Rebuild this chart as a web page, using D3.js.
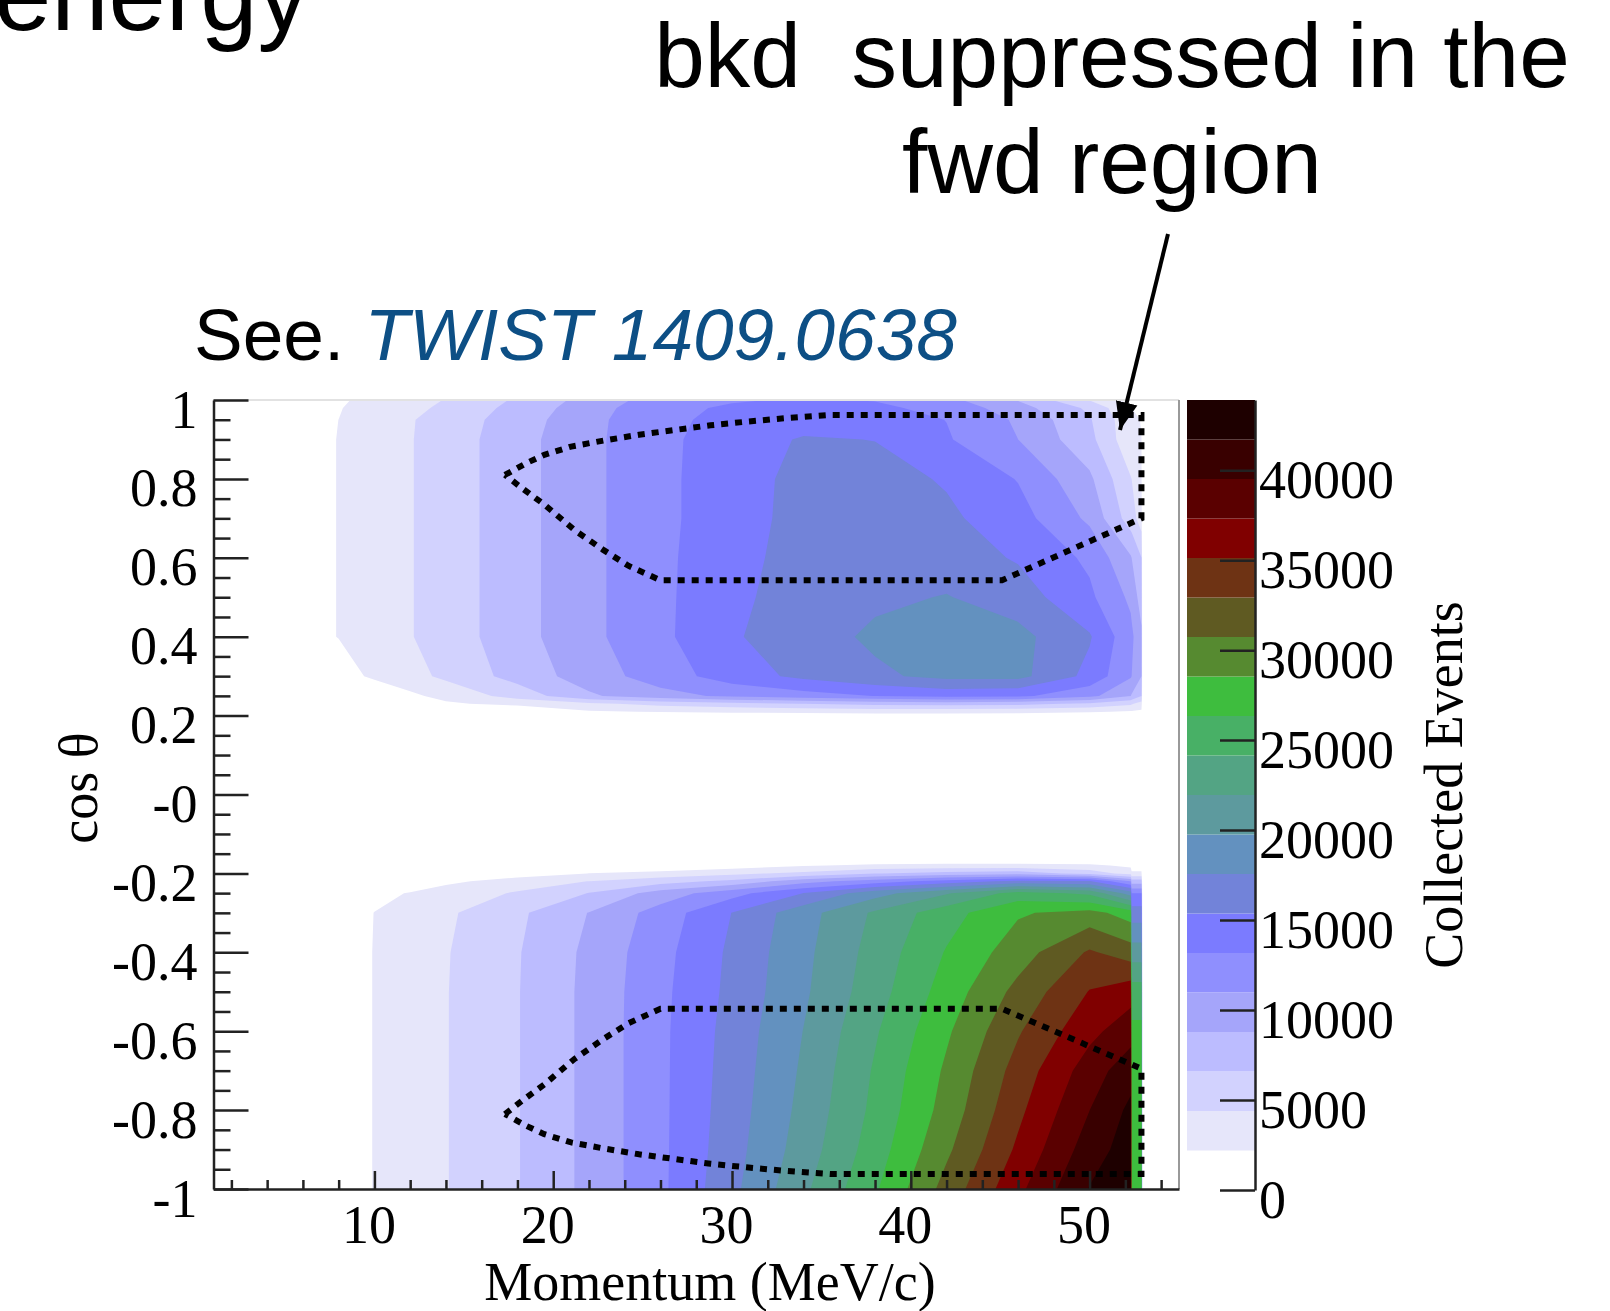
<!DOCTYPE html>
<html>
<head>
<meta charset="utf-8">
<script src="https://cdn.jsdelivr.net/npm/d3@7"></script>
<style>
  body { margin: 0; background: #fff; }
  svg { display: block; background: #fff; }
</style>
</head>
<body>
<svg id="chart" width="1610" height="1311"></svg>
<script>
"use strict";

// columns of the count table (momentum, MeV/c)
const momentum = [1, 8, 10, 12, 14, 18, 22, 26, 30, 34, 38, 42, 46, 50, 52.3, 52.35, 52.9, 52.95, 55];
// rows of the count table (cos theta)
const cosTheta = [-1, -0.9, -0.8, -0.7, -0.6, -0.5, -0.4, -0.3, -0.25, -0.22, -0.2, -0.18, -0.16,
                  0.19, 0.21, 0.23, 0.25, 0.3, 0.4, 0.5, 0.6, 0.7, 0.8, 0.9, 0.95, 0.98, 1];
// collected events, one row per cosTheta value
const counts = [
  [0, 0, 2340, 3310, 4300, 6480, 9370, 12690, 17000, 21500, 26050, 31550, 36770, 41820, 43500, 27440, 27440, 0, 0], // -1
  [0, 0, 2340, 3310, 4300, 6480, 9370, 12690, 16700, 20800, 25240, 30300, 35530, 40610, 42800, 27200, 27200, 0, 0], // -0.9
  [0, 0, 2340, 3310, 4300, 6480, 9370, 12690, 16500, 20400, 24700, 29400, 34600, 39500, 42200, 27200, 27200, 0, 0], // -0.8
  [0, 0, 2340, 3310, 4300, 6480, 9370, 12690, 16350, 20100, 24400, 28900, 33800, 38400, 40830, 27000, 27000, 0, 0], // -0.7
  [0, 0, 2340, 3310, 4300, 6480, 9370, 12690, 16200, 19800, 23900, 28200, 32700, 36700, 38600, 26780, 26780, 0, 0], // -0.6
  [0, 0, 2340, 3310, 4300, 6480, 9370, 12620, 15950, 19400, 23200, 27300, 31400, 35230, 36440, 25240, 25240, 0, 0], // -0.5
  [0, 0, 2340, 3290, 4250, 6430, 9280, 12440, 15800, 19200, 22800, 26500, 29700, 33200, 31800, 20850, 20850, 0, 0], // -0.4
  [0, 0, 2250, 3110, 4020, 6150, 8850, 11920, 15400, 18880, 22300, 25460, 28300, 29300, 27500, 16460, 16460, 0, 0], // -0.3
  [0, 0, 1320, 2380, 3110, 4630, 6650, 9770, 12350, 15400, 18880, 21730, 25020, 23700, 18660, 13170, 13170, 0, 0], // -0.25
  [0, 0, 0, 0, 1760, 3030, 4430, 5600, 7180, 10100, 12120, 14030, 16020, 15580, 10980, 7680, 7680, 0, 0],          // -0.22
  [0, 0, 0, 0, 0, 1320, 2220, 3030, 3860, 4960, 6480, 7460, 7900, 5710, 3510, 2630, 2630, 0, 0],                   // -0.2
  [0, 0, 0, 0, 0, 0, 0, 0, 1100, 1980, 2630, 2850, 2850, 2630, 1760, 1100, 1100, 0, 0],                            // -0.18
  [0, 0, 0, 0, 0, 0, 0, 0, 0, 0, 0, 0, 0, 0, 0, 0, 0, 0, 0],                                                       // -0.16
  [0, 0, 0, 0, 0, 0, 0, 0, 0, 0, 0, 0, 0, 0, 0, 0, 0, 0, 0],                                                       // 0.19
  [0, 0, 0, 0, 0, 0, 1980, 2300, 2520, 2630, 2850, 2850, 2740, 2410, 1980, 1980, 1760, 0, 0],                      // 0.21
  [0, 0, 0, 0, 1870, 2850, 3950, 5050, 5930, 6620, 7240, 7460, 7240, 6150, 4830, 4610, 3510, 0, 0],                // 0.23
  [0, 0, 660, 1760, 2850, 5270, 8450, 10210, 11410, 12290, 13210, 13830, 13610, 11630, 8780, 8560, 6620, 0, 0],    // 0.25
  [0, 1320, 2550, 3660, 4850, 7440, 9860, 12050, 14250, 15910, 17120, 18220, 18220, 14710, 11190, 10980, 8780, 0, 0], // 0.3
  [0, 2240, 3270, 4280, 5360, 7970, 10430, 12670, 15150, 16460, 18000, 18660, 18220, 15580, 11630, 11410, 9220, 0, 0], // 0.4
  [0, 2240, 3270, 4280, 5360, 7970, 10430, 12670, 14930, 16240, 17120, 17670, 16460, 13610, 10540, 10320, 7680, 0, 0], // 0.5
  [0, 2240, 3270, 4280, 5360, 7970, 10430, 12670, 14710, 16130, 16680, 16460, 15150, 12730, 9000, 8780, 6620, 0, 0],   // 0.6
  [0, 2240, 3270, 4280, 5360, 7970, 10430, 12670, 14380, 16130, 16460, 15800, 14050, 10540, 5490, 5380, 3290, 0, 0],   // 0.7
  [0, 2240, 3270, 4280, 5360, 7970, 10430, 12670, 14380, 16020, 16240, 15140, 13060, 9220, 4500, 4390, 2630, 0, 0],    // 0.8
  [0, 2240, 3270, 4280, 5360, 7970, 10430, 12670, 14230, 15580, 15320, 13390, 10980, 7240, 2850, 2740, 2250, 0, 0],    // 0.9
  [0, 2200, 3140, 4230, 5290, 7680, 10340, 12620, 13830, 14380, 14270, 13130, 10650, 6800, 2850, 2740, 2090, 0, 0],    // 0.95
  [0, 2100, 2900, 3800, 4850, 7300, 10010, 12510, 13500, 13830, 13610, 12510, 9660, 6150, 2300, 2200, 1540, 0, 0],     // 0.98
  [0, 2000, 2600, 3400, 4500, 6900, 9600, 12000, 12950, 13390, 13060, 11630, 8670, 4280, 1540, 1540, 1100, 0, 0]       // 1
];

// fiducial cut outlines, [momentum, cos theta]
const fwdCut = [[17.3, 0.81], [18.5, 0.84], [19.5, 0.861], [21, 0.882], [22.8, 0.897], [24.8, 0.912], [26.8, 0.924],
  [28.8, 0.936], [30.8, 0.945], [33, 0.954], [35.5, 0.962], [52.9, 0.962], [52.9, 0.70], [45.1, 0.543], [26.0, 0.543],
  [24.2, 0.58], [22.8, 0.62], [21.2, 0.67], [19.5, 0.735], [18.3, 0.775], [17.3, 0.81]];
const bkdCut = [[17.3, -0.81], [18.3, -0.775], [19.5, -0.735], [21.2, -0.67], [22.8, -0.62], [24.2, -0.58], [26.0, -0.543],
  [45.1, -0.543], [52.9, -0.695], [52.9, -0.962], [35.5, -0.962], [33, -0.954], [30.8, -0.945], [28.8, -0.936],
  [26.8, -0.924], [24.8, -0.912], [22.8, -0.897], [21, -0.882], [19.5, -0.861], [18.5, -0.84], [17.3, -0.81]];

// palette: one colour per contour level, lowest first
const levelColors = ["#ffffff", "#e6e6fa", "#d2d2fe", "#bcbcff", "#a5a5fa", "#8f8ffe", "#7b7bff", "#7283d9",
  "#6391bf", "#5d9a9e", "#53a484", "#48b066", "#3ebd3e", "#568a30", "#5f5a22", "#6e3314",
  "#800000", "#5a0000", "#390000", "#1e0000"];
const zMax = 43900;

const xTicks = [10, 20, 30, 40, 50];
const xMinorTicks = [2, 4, 6, 8, 12, 14, 16, 18, 22, 24, 26, 28, 32, 34, 36, 38, 42, 44, 46, 48, 52, 54];
const yTicks = [-1, -0.8, -0.6, -0.4, -0.2, 0, 0.2, 0.4, 0.6, 0.8, 1];
const yTickLabels = ["-1", "-0.8", "-0.6", "-0.4", "-0.2", "-0", "0.2", "0.4", "0.6", "0.8", "1"];
const zTicks = [0, 5000, 10000, 15000, 20000, 25000, 30000, 35000, 40000];

const serif = '"Liberation Serif", "Times New Roman", serif';
const sans = '"Liberation Sans", Arial, Helvetica, sans-serif';
const plot = {x0: 213.5, x1: 1179, y0: 400, y1: 1189};
const bar = {x0: 1187, x1: 1255};

const svg = d3.select("#chart");

const x = d3.scaleLinear().domain([1, 55]).range([plot.x0, plot.x1]);
const y = d3.scaleLinear().domain([-1, 1]).range([plot.y1, plot.y0]);
const z = d3.scaleLinear().domain([0, zMax]).range([1190, plot.y0]);

// grid index -> data value (uneven grid)
const nx = momentum.length, ny = cosTheta.length;
const colScale = d3.scaleLinear().domain(d3.range(nx)).range(momentum).clamp(true);
const rowScale = d3.scaleLinear().domain(d3.range(ny)).range(cosTheta).clamp(true);

const step = zMax / levelColors.length;
const thresholds = d3.range(1, levelColors.length).map(k => k * step);
const contours = d3.contours().size([nx, ny]).thresholds(thresholds)(counts.flat());

const toPlot = d3.geoTransform({
  point: function (gx, gy) {
    this.stream.point(x(colScale(gx - 0.5)), y(rowScale(gy - 0.5)));
  }
});
const contourPath = d3.geoPath(toPlot);

svg.append("g")
  .selectAll("path")
  .data(contours)
  .join("path")
  .attr("d", contourPath)
  .attr("fill", d => levelColors[Math.round(d.value / step)]);

// frame (top / right)
svg.append("line").attr("x1", plot.x0).attr("x2", plot.x1).attr("y1", plot.y0).attr("y2", plot.y0)
  .attr("stroke", "#e2e2e2").attr("stroke-width", 2);
svg.append("line").attr("x1", plot.x1).attr("x2", plot.x1).attr("y1", plot.y0).attr("y2", plot.y1)
  .attr("stroke", "#999").attr("stroke-width", 2);

// fiducial region outlines
const line = d3.line().x(d => x(d[0])).y(d => y(d[1]));
for (const cut of [fwdCut, bkdCut]) {
  svg.append("path")
    .datum(cut)
    .attr("d", line)
    .attr("fill", "none")
    .attr("stroke", "#000")
    .attr("stroke-width", 6)
    .attr("stroke-dasharray", "7,7");
}

function styleAxis(g) {
  g.attr("font-family", serif).attr("font-size", 54);
  g.selectAll("line").attr("stroke", "#222").attr("stroke-width", 2.5);
  g.selectAll(".domain").attr("stroke", "#222").attr("stroke-width", 2.5);
  g.selectAll("text").attr("fill", "#000");
}

// y axis
svg.append("g")
  .attr("transform", `translate(${plot.x0},0)`)
  .call(d3.axisLeft(y).tickValues(yTicks).tickFormat((d, i) => yTickLabels[i])
    .tickSize(-35).tickSizeOuter(0).tickPadding(16))
  .call(styleAxis)
  .call(g => g.selectAll("text").attr("dy", "0.5em"));

svg.append("g")
  .attr("transform", `translate(${plot.x0},0)`)
  .call(d3.axisLeft(y).tickValues(d3.range(-0.95, 1, 0.05).filter(v => Math.abs(v * 5 - Math.round(v * 5)) > 0.01))
    .tickFormat("").tickSize(-17).tickSizeOuter(0))
  .call(styleAxis)
  .call(g => g.select(".domain").remove());

// x axis
svg.append("g")
  .attr("transform", `translate(0,${plot.y1})`)
  .call(d3.axisBottom(x).tickValues(xTicks).tickSize(-18).tickSizeOuter(0).tickPadding(16))
  .call(styleAxis)
  .call(g => g.selectAll("text").attr("dx", -6));

svg.append("g")
  .attr("transform", `translate(0,${plot.y1})`)
  .call(d3.axisBottom(x).tickValues(xMinorTicks).tickFormat("").tickSize(-9).tickSizeOuter(0))
  .call(styleAxis)
  .call(g => g.select(".domain").remove());

// colour bar
svg.append("g")
  .selectAll("rect")
  .data(levelColors)
  .join("rect")
  .attr("x", bar.x0)
  .attr("width", bar.x1 - bar.x0)
  .attr("y", (c, k) => z((k + 1) * step))
  .attr("height", (c, k) => z(k * step) - z((k + 1) * step))
  .attr("fill", c => c);

svg.append("g")
  .attr("transform", `translate(${bar.x1},0)`)
  .call(d3.axisRight(z).tickValues(zTicks).tickFormat(d3.format("d"))
    .tickSize(-35).tickSizeOuter(0).tickPadding(4))
  .call(styleAxis)
  .call(g => g.selectAll("text").attr("dy", "0.5em"));

// axis titles
svg.append("text")
  .attr("x", 710).attr("y", 1300)
  .attr("text-anchor", "middle")
  .attr("font-family", serif).attr("font-size", 54)
  .text("Momentum (MeV/c)");

svg.append("text")
  .attr("transform", "translate(97,788) rotate(-90)")
  .attr("text-anchor", "middle")
  .attr("font-family", serif).attr("font-size", 54)
  .text("cos θ");

svg.append("text")
  .attr("transform", "translate(1462,785) rotate(-90)")
  .attr("text-anchor", "middle")
  .attr("font-family", serif).attr("font-size", 54)
  .text("Collected Events");

// slide annotations
svg.append("text")
  .attr("x", -6).attr("y", 30)
  .attr("font-family", sans).attr("font-size", 103)
  .text("energy");

const note = svg.append("text")
  .attr("text-anchor", "middle")
  .attr("font-family", sans).attr("font-size", 91)
  .style("white-space", "pre");
note.append("tspan").attr("x", 1112).attr("y", 87).text("bkd  suppressed in the");
note.append("tspan").attr("x", 1112).attr("y", 193).text("fwd region");

const ref = svg.append("text")
  .attr("x", 194).attr("y", 360)
  .attr("font-family", sans).attr("font-size", 73);
ref.append("tspan").text("See. ");
ref.append("tspan").attr("font-style", "italic").attr("fill", "#0d4f85").text("TWIST 1409.0638");

// arrow
svg.append("defs").append("marker")
  .attr("id", "head")
  .attr("markerUnits", "userSpaceOnUse")
  .attr("markerWidth", 30).attr("markerHeight", 26)
  .attr("refX", 28).attr("refY", 13)
  .attr("orient", "auto")
  .append("path")
  .attr("d", "M0,2 L28,13 L0,24 Z")
  .attr("fill", "#000");

svg.append("line")
  .attr("x1", 1168).attr("y1", 234)
  .attr("x2", 1120).attr("y2", 430)
  .attr("stroke", "#000").attr("stroke-width", 4)
  .attr("marker-end", "url(#head)");
</script>
</body>
</html>
